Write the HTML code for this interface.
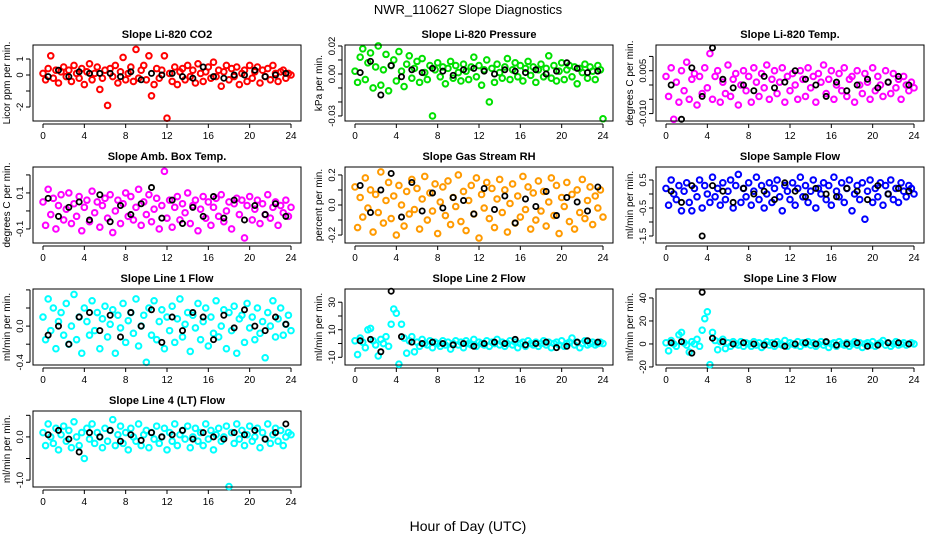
<!DOCTYPE html>
<html><head><meta charset="utf-8"><style>
body{margin:0;background:#fff;}
svg{display:block;font-family:"Liberation Sans",Arial,sans-serif;}
</style></head><body>
<svg id="chart" width="936" height="540" viewBox="0 0 936 540" xmlns="http://www.w3.org/2000/svg">
<rect width="936" height="540" fill="#fff"/>
<text x="468" y="14" text-anchor="middle" font-size="13">NWR_110627  Slope Diagnostics</text>
<text x="468" y="531" text-anchor="middle" font-size="14">Hour of Day (UTC)</text>
</svg>
<script>
const xTicks=[0,4,8,12,16,20,24];
const p1Vals=[0.1,-0.3,0.4,1.2,-0.2,0.3,-0.5,0.2,0.5,-0.1,0.3,-0.4,0.6,0.1,-0.2,0.4,-0.6,0.2,0.7,-0.3,0.1,0.5,-0.9,-0.2,0.3,-1.9,0.4,-0.1,0.6,-0.5,0.2,1.1,-0.3,0.1,0.5,-0.4,1.6,-0.2,0.3,0.6,-0.3,1.2,-1.3,-0.6,0.4,-0.2,0.3,1.2,-2.7,0.1,-0.4,0.5,-0.6,0.2,0.4,-0.3,0.6,-0.1,0.3,-0.5,0.7,0.1,-0.4,0.2,0.5,-0.2,0.8,-0.1,0.3,-0.7,0.2,0.6,-0.3,0.4,-0.1,0.5,-0.6,0.1,0.3,-0.4,0.6,-0.2,0.2,0.5,-0.5,0.3,-0.1,0.4,-0.3,0.6,0.1,-0.4,0.2,0.3,-0.2,0.1,0.0];
const p1Black=[-0.1,0.3,-0.1,0.2,0.1,0.1,0.1,-0.1,0.2,-0.3,0.1,0.0,0.1,-0.1,-0.2,0.5,-0.1,-0.2,0.0,0.0,0.3,-0.1,0.0,0.1];
const p2Vals=[.002,-.006,.012,.018,-.004,.008,.015,-.010,.005,.020,-.008,.003,.014,-.012,.006,.010,-.005,.016,.002,-.009,.007,.013,-.003,.004,.009,-.006,.011,.001,-.004,.006,-.030,.003,.008,-.002,.005,-.007,.004,.009,-.003,.006,.001,-.005,.007,.002,-.004,.005,.012,-.002,.006,-.008,.003,.010,-.020,.004,-.006,.007,.001,-.003,.005,.011,-.004,.003,.008,-.002,.006,-.005,.004,.009,-.001,.005,-.006,.003,.007,-.002,.004,.013,-.003,.006,-.005,.002,.008,-.004,.003,.006,-.002,.005,-.007,.004,.001,.007,-.003,.005,.002,-.004,.006,.003,-.032];
const p2Black=[.001,.009,-.015,.006,-.002,.003,.001,.004,.002,-.001,.003,.004,.002,.000,.003,.002,.001,.003,.000,.002,.008,.004,.001,.002];
const p3Vals=[.003,-.004,.006,-.012,.001,-.006,.005,-.002,.008,-.005,.002,.004,-.007,.003,-.003,.006,-.001,.011,-.005,.003,.005,-.006,.001,-.003,.007,-.004,.002,.004,-.007,.000,.005,-.002,.003,-.006,.006,.001,-.004,.004,-.001,.007,-.005,.002,.005,-.003,.001,.006,-.006,.003,-.002,.004,.000,-.005,.005,.002,-.004,.006,-.001,.003,-.006,.004,.001,.007,-.003,.002,.005,-.005,.000,.004,-.002,.006,-.004,.002,.003,-.006,.005,.000,-.003,.004,.001,-.005,.006,-.002,.003,.000,-.004,.005,.001,-.003,.004,-.001,.002,-.005,.003,.000,-.002,.001,-.001];
const p3Black=[.000,-.012,.006,-.004,.013,.002,-.001,.000,-.002,.003,-.001,.001,.005,.002,.000,-.004,.001,-.002,.000,.002,-.001,.001,.003,.000];
const p4Vals=[.05,-.08,.12,-.02,.07,-.10,.03,.09,-.05,.01,.10,-.07,.04,-.03,.08,-.11,.02,.06,-.06,.11,-.01,.05,-.09,.03,.07,-.04,.09,-.12,.00,.06,-.07,.04,.10,-.03,.08,-.05,.02,.12,-.08,.05,-.02,.09,-.06,.01,.07,-.10,.03,.22,-.04,.06,-.09,.02,.08,-.05,.04,-.01,.10,-.07,.03,.06,-.11,.01,.08,-.04,.05,-.08,.02,.07,-.03,.09,-.06,.00,.05,-.10,.04,.07,-.02,.06,-.15,.03,.08,-.05,.01,.06,-.07,.04,-.02,.09,-.04,.02,.05,-.08,.03,-.01,.06,-.03,.02];
const p4Black=[.07,-.03,.02,.05,-.05,.09,-.06,.03,-.02,.04,.13,-.04,.06,-.07,.02,-.03,.08,-.04,.06,-.05,.03,-.02,.04,-.03];
const p5Vals=[.12,-.15,.05,-.08,.18,-.02,.10,-.18,.07,-.05,.22,-.12,.03,.15,-.09,.06,-.20,.13,.00,-.14,.09,-.06,.17,-.03,.11,-.16,.04,.19,-.10,.08,-.04,.14,-.19,.02,.12,-.07,.16,-.13,.05,-.01,.20,-.11,.09,-.17,.03,.13,-.06,.18,-.22,.07,-.02,.15,-.09,.11,-.15,.04,.17,-.05,.10,-.18,.01,.14,-.12,.06,-.08,.19,-.03,.12,-.16,.08,-.10,.16,-.04,.09,-.14,.02,.18,-.07,.13,-.19,.05,-.01,.15,-.11,.07,-.16,.10,-.05,.17,-.09,.03,.12,-.13,.06,-.02,.10,-.08];
const p5Black=[.13,-.05,.10,.21,-.08,.15,-.04,.08,-.02,.05,.03,-.06,.11,-.03,.06,-.12,.04,-.01,.09,-.07,.05,.02,-.04,.12];
const p6Vals=[.2,-.4,.5,.0,-.2,.3,-.6,.1,.4,-.3,-.6,.2,-.1,.5,-.5,.3,.0,-.3,.6,-.1,.2,-.4,.4,-.2,.1,.5,-.5,.3,.7,-.3,.2,-.1,.4,-.4,.1,.6,-.2,.3,-.5,.0,.4,-.3,.2,.5,-.1,-.6,.3,.1,-.2,.4,-.4,.2,.6,-.1,.3,-.3,.1,.5,-.5,.2,.0,.4,-.2,.3,-.4,.6,.1,-.1,.4,-.3,.2,.5,-.6,.0,.3,-.2,.4,-.9,.1,.5,-.3,.2,-.1,.4,-.4,.3,.0,.5,-.2,.2,-.3,.4,.1,-.1,.3,.2,.0];
const p6Black=[.1,-.3,.3,-1.5,.3,.1,-.3,.2,.0,.1,-.2,.4,.1,-.1,.2,.0,-.1,.2,.1,-.2,.3,.0,.2,.1];
const p7Vals=[.10,-.15,.30,-.05,.20,-.25,.05,.15,-.10,.25,-.20,.00,.35,-.15,.10,-.30,.20,.05,-.10,.28,-.05,.15,-.25,.08,.22,-.12,.02,.18,-.30,.12,-.02,.25,-.18,.06,.15,-.08,.30,-.22,.00,.12,-.40,.20,-.10,.28,-.15,.05,.18,-.25,.10,-.05,.22,-.18,.08,.30,-.12,.02,.15,-.28,.12,-.02,.25,-.15,.05,.20,-.22,.10,-.08,.28,-.12,.00,.18,-.25,.15,-.05,.22,-.30,.08,.12,-.18,.25,-.02,.10,-.15,.20,-.08,.05,-.35,.15,.00,.28,-.12,.08,.20,-.10,.02,.12,-.05];
const p7Black=[-.10,.00,-.20,.10,.15,-.05,.12,-.12,.15,.00,.18,-.18,.10,-.05,.15,.10,-.15,.12,-.02,.18,.00,-.05,.10,.02];
const p8Vals=[2,-8,4,1,-3,10,11,2,-1,-9,3,0,5,-2,14,25,22,-15,14,4,-7,2,5,-6,1,-2,3,0,-1,2,-3,1,0,-2,2,-1,1,-4,0,2,-1,1,-3,2,0,-1,3,-2,1,0,-1,2,-2,1,0,3,-1,1,-2,0,2,-1,1,-3,0,1,-2,2,0,-1,1,-2,0,2,-1,1,-3,0,1,-1,2,-2,0,1,4,-1,1,-3,0,2,-1,0,1,-1,0,1,0];
const p8Black=[2,3,-6,38,5,1,0,1,0,-1,0,-2,0,1,0,3,-1,0,1,-3,-2,1,2,1];
const p9Vals=[1,-6,3,0,-2,8,10,1,-1,-7,2,0,4,-2,12,22,28,-18,10,3,-5,2,4,-4,1,-2,2,0,-1,2,-2,1,0,-2,2,-1,1,-3,0,2,-1,1,-2,2,0,-1,3,-2,1,0,-1,2,-2,1,0,2,-1,1,-2,0,2,-1,1,-3,0,1,-2,2,0,-1,1,-2,0,2,-1,1,-3,0,1,-1,2,-2,0,1,3,-1,1,-2,0,2,-1,0,1,-1,0,1,0];
const p9Black=[1,2,-8,45,5,2,0,1,0,-1,0,-2,0,1,0,2,-1,0,1,-2,-1,1,1,0];
const p10Vals=[.1,-.2,.3,.0,-.15,.2,-.3,.05,.25,-.1,.15,-.25,.35,.0,-.2,.1,-.5,.2,-.05,.3,-.15,.1,.0,-.25,.2,-.1,.15,.4,-.2,.05,.25,-.15,.1,-.3,.2,.0,-.1,.3,-.2,.05,.15,-.25,.1,-.05,.25,-.15,.0,.2,-.3,.1,-.1,.3,-.2,.05,.15,-.05,.25,-.25,.0,.2,-.1,.1,-.2,.3,-.05,.15,-.3,.05,.2,-.1,.0,.25,-1.15,.1,-.15,.3,-.05,.15,-.2,.05,.25,-.1,.0,.2,-.25,.1,-.05,.3,-.15,.05,.2,-.1,.15,-.2,.0,.1,.05];
const p10Black=[.05,.15,-.05,-.35,.10,.00,.15,-.10,.05,-.08,.10,.00,.05,.15,-.05,.10,.00,-.05,.10,.05,.15,-.05,.10,.30];

const p1Ticks=[-2,-1,0,1], p1Labels=["-2","","0","1"];
const p2Ticks=[-0.03,-0.02,-0.01,0,0.01,0.02], p2Labels=["-0.03","","","0.00","","0.02"];
const p3Ticks=[-0.01,-0.005,0,0.005,0.01], p3Labels=["-0.010","","","0.005",""];
const p4Ticks=[-0.1,0,0.1,0.2], p4Labels=["-0.1","","0.1",""];
const p5Ticks=[-0.2,-0.1,0,0.1,0.2], p5Labels=["-0.2","","0.0","","0.2"];
const p6Ticks=[-1.5,-1,-0.5,0,0.5], p6Labels=["-1.5","","-0.5","","0.5"];
const p7Ticks=[-0.4,-0.2,0,0.2,0.4], p7Labels=["-0.4","","0.0","",""];
const p8Ticks=[-10,0,10,20,30], p8Labels=["-10","","10","","30"];
const p9Ticks=[-20,0,20,40], p9Labels=["-20","0","20","40"];
const p10Ticks=[-1,-0.5,0,0.5], p10Labels=["-1.0","","0.0",""];

const panels=[
 {name:"co2",title:"Slope Li-820 CO2",ylab:"Licor ppm per min.",col:0,row:0,ylim:[-2.875,1.875],color:"#ff0000",vals:p1Vals,black:p1Black,ticks:p1Ticks,labels:p1Labels},
 {name:"pressure",title:"Slope Li-820 Pressure",ylab:"kPa per min.",col:1,row:0,ylim:[-0.0336,0.0207],color:"#00e000",vals:p2Vals,black:p2Black,ticks:p2Ticks,labels:p2Labels},
 {name:"temp",title:"Slope Li-820 Temp.",ylab:"degrees C per min.",col:2,row:0,ylim:[-0.0126,0.014],color:"#ff00ff",vals:p3Vals,black:p3Black,ticks:p3Ticks,labels:p3Labels},
 {name:"amb-box-temp",title:"Slope Amb. Box Temp.",ylab:"degrees C per min.",col:0,row:1,ylim:[-0.178,0.244],color:"#ff00ff",vals:p4Vals,black:p4Black,ticks:p4Ticks,labels:p4Labels},
 {name:"gas-stream-rh",title:"Slope Gas Stream RH",ylab:"percent per min.",col:1,row:1,ylim:[-0.253,0.253],color:"#ff9a00",vals:p5Vals,black:p5Black,ticks:p5Ticks,labels:p5Labels},
 {name:"sample-flow",title:"Slope Sample Flow",ylab:"ml/min per min.",col:2,row:1,ylim:[-1.75,0.964],color:"#0000ff",vals:p6Vals,black:p6Black,ticks:p6Ticks,labels:p6Labels},
 {name:"line1-flow",title:"Slope Line 1 Flow",ylab:"ml/min per min.",col:0,row:2,ylim:[-0.43,0.41],color:"#00ffff",vals:p7Vals,black:p7Black,ticks:p7Ticks,labels:p7Labels},
 {name:"line2-flow",title:"Slope Line 2 Flow",ylab:"ml/min per min.",col:1,row:2,ylim:[-15.6,39.6],color:"#00ffff",vals:p8Vals,black:p8Black,ticks:p8Ticks,labels:p8Labels},
 {name:"line3-flow",title:"Slope Line 3 Flow",ylab:"ml/min per min.",col:2,row:2,ylim:[-18.3,47.8],color:"#00ffff",vals:p9Vals,black:p9Black,ticks:p9Ticks,labels:p9Labels},
 {name:"line4-flow",title:"Slope Line 4 (LT) Flow",ylab:"ml/min per min.",col:0,row:3,ylim:[-1.16,0.6],color:"#00ffff",vals:p10Vals,black:p10Black,ticks:p10Ticks,labels:p10Labels}
];
const NS="http://www.w3.org/2000/svg";
const svg=document.getElementById('chart');
function mk(tag,attrs,parent){const e=document.createElementNS(NS,tag);for(const k in attrs)e.setAttribute(k,attrs[k]);(parent||svg).appendChild(e);return e;}
const colLeft=[33,345,656], rowTop=[45,167,289,411], W=268, H=76;
panels.forEach(p=>{
 const L=colLeft[p.col], T=rowTop[p.row];
 const g=mk('g',{});
 
 
 const xs=h=>L+10+h*(W-20)/24;
 const ys=v=>T+H-(v-p.ylim[0])/(p.ylim[1]-p.ylim[0])*H;
 const t=mk('text',{x:L+W/2,y:T-7,'text-anchor':'middle','font-size':11,'font-weight':'bold'},g);
 t.textContent=p.title;
 
 
 const yl=mk('text',{x:0,y:0,transform:`translate(${L-23},${T+H/2}) rotate(-90)`,'text-anchor':'middle','font-size':10},g);
 yl.textContent=p.ylab;
 
 
 mk('line',{x1:xs(0),x2:xs(24),y1:T+H+3,y2:T+H+3,stroke:'#000'},g);
 xTicks.forEach(h=>{
  mk('line',{x1:xs(h),x2:xs(h),y1:T+H+3,y2:T+H+7,stroke:'#000'},g);
  const tl=mk('text',{x:xs(h),y:T+H+18,'text-anchor':'middle','font-size':10},g);
  tl.textContent=h;
  
  
 });
 mk('line',{x1:L-3,x2:L-3,y1:ys(p.ticks[0]),y2:ys(p.ticks[p.ticks.length-1]),stroke:'#000'},g);
 p.ticks.forEach((v,i)=>{
  mk('line',{x1:L-7,x2:L-3,y1:ys(v),y2:ys(v),stroke:'#000'},g);
  const tl=mk('text',{x:0,y:0,transform:`translate(${L-10},${ys(v)}) rotate(-90)`,'text-anchor':'middle','font-size':9.5},g);
  tl.textContent=p.labels[i];
  
  
 });
 const pts=mk('g',{},g);
 
 
 const n=p.vals.length;
 p.vals.forEach((v,i)=>{
  const c=mk('circle',{cx:xs(i*24/(n-1)),cy:ys(v),r:2.8,fill:'none',stroke:p.color,'stroke-width':2},pts);
  
  
 });
 const bp=mk('g',{},g);
 
 
 p.black.forEach((v,i)=>{
  const c=mk('circle',{cx:xs(i+0.5),cy:ys(v),r:2.6,fill:'none',stroke:'#000','stroke-width':1.8},bp);
  
  
 });
 const box=mk('rect',{x:L,y:T,width:W,height:H,fill:'none',stroke:'#000'},g);
 
 
});
</script>
</body></html>
